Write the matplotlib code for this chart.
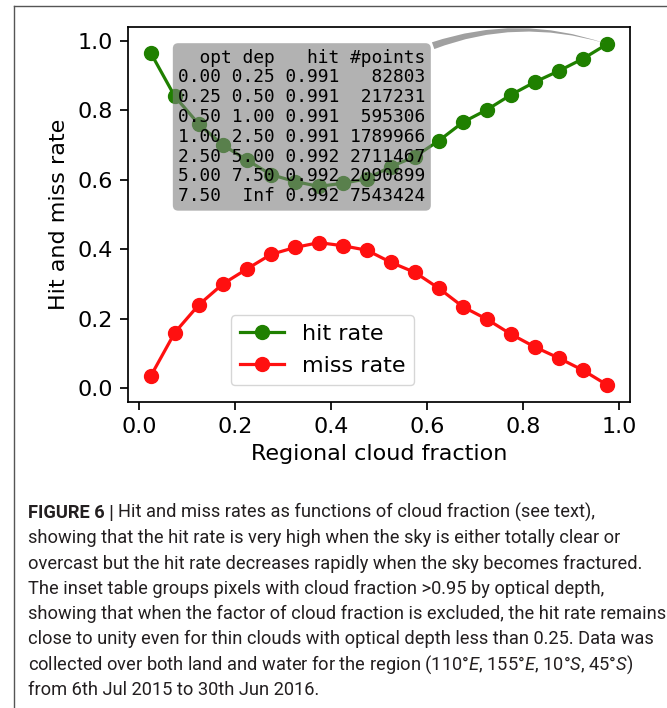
import matplotlib
matplotlib.use('Agg')
import matplotlib.pyplot as plt
from matplotlib.lines import Line2D

# ---------------- data ----------------
cloud_fraction = [0.025, 0.075, 0.125, 0.175, 0.225, 0.275, 0.325, 0.375, 0.425, 0.475,
                  0.525, 0.575, 0.625, 0.675, 0.725, 0.775, 0.825, 0.875, 0.925, 0.975]
hit_rate = [0.965, 0.840, 0.760, 0.700, 0.657, 0.615, 0.595, 0.581, 0.590, 0.603,
            0.638, 0.667, 0.713, 0.766, 0.802, 0.845, 0.882, 0.914, 0.949, 0.991]
miss_rate = [0.035, 0.160, 0.240, 0.300, 0.343, 0.385, 0.405, 0.419, 0.410, 0.397,
             0.362, 0.333, 0.287, 0.234, 0.198, 0.155, 0.118, 0.086, 0.051, 0.009]

table_header = "  opt dep   hit #points"
table_opt_lo = ["0.00", "0.25", "0.50", "1.00", "2.50", "5.00", "7.50"]
table_opt_hi = ["0.25", "0.50", "1.00", "2.50", "5.00", "7.50", "Inf"]
table_hit = [0.991, 0.991, 0.991, 0.991, 0.992, 0.992, 0.992]
table_points = [82803, 217231, 595306, 1789966, 2711467, 2090899, 7543424]

series_labels = ["hit rate", "miss rate"]
xlabel = "Regional cloud fraction"
ylabel = "Hit and miss rate"

caption_bold = "FIGURE 6 | "
caption_lines = [
    "Hit and miss rates as functions of cloud fraction (see text),",
    "showing that the hit rate is very high when the sky is either totally clear or",
    "overcast but the hit rate decreases rapidly when the sky becomes fractured.",
    "The inset table groups pixels with cloud fraction >0.95 by optical depth,",
    "showing that when the factor of cloud fraction is excluded, the hit rate remains",
    "close to unity even for thin clouds with optical depth less than 0.25. Data was",
    r"collected over both land and water for the region (110°$\mathit{E}$, 155°$\mathit{E}$, 10°$\mathit{S}$, 45°$\mathit{S}$)",
    "from 6th Jul 2015 to 30th Jun 2016.",
]

# ---------------- style ----------------
plt.rcParams['mathtext.fontset'] = 'custom'
plt.rcParams['mathtext.rm'] = 'Roboto'
plt.rcParams['mathtext.it'] = 'Roboto:italic'

FS = 16
W, H = 667, 708
fig = plt.figure(figsize=(W / 100, H / 100), dpi=100)

ax = fig.add_axes([128 / W, 1 - 402 / H, (630 - 128) / W, (402 - 27) / H])
ax.plot(cloud_fraction, hit_rate, '-o', color='#1f8000', lw=2.3, ms=10, label=series_labels[0])
ax.plot(cloud_fraction, miss_rate, '-o', color='#ff1010', lw=2.3, ms=10, label=series_labels[1])

ax.set_xticks([0.0, 0.2, 0.4, 0.6, 0.8, 1.0])
ax.set_yticks([0.0, 0.2, 0.4, 0.6, 0.8, 1.0])
ax.tick_params(labelsize=FS, length=5.6, width=1.25, pad=5)
for s in ax.spines.values():
    s.set_linewidth(1.25)
ax.set_xlabel(xlabel, fontsize=FS, labelpad=5)
ax.set_ylabel(ylabel, fontsize=FS, labelpad=6)

leg = ax.legend(loc='lower left', bbox_to_anchor=(0.205, 0.045), borderaxespad=0,
                fontsize=FS, labelspacing=0.55)

rows = [table_header] + [f"{lo:>4} {hi:>4} {h:.3f} {p:>7d}"
                         for lo, hi, h, p in zip(table_opt_lo, table_opt_hi, table_hit, table_points)]
table_text = "\n".join(rows)
ax.annotate(table_text, xy=(cloud_fraction[-1], hit_rate[-1]), xytext=(0.082, 0.978),
            xycoords='data', textcoords='data', ha='left', va='top',
            family='DejaVu Sans Mono', fontsize=12.9, linespacing=1.13,
            bbox=dict(boxstyle='round,pad=0.3', fc='gray', ec='none', alpha=0.6),
            arrowprops=dict(arrowstyle='wedge,tail_width=0.4', fc='gray', ec='none',
                            alpha=0.75, relpos=(1.0, 1.0),
                            connectionstyle='arc3,rad=-0.18'))

# ---------------- border ----------------
fig.add_artist(Line2D([14 / W, 1.0], [1 - 6 / H, 1 - 6 / H], color='#555555', lw=1.0,
                      transform=fig.transFigure))
fig.add_artist(Line2D([14 / W, 14 / W], [1 - 6 / H, 0.0], color='#555555', lw=1.0,
                      transform=fig.transFigure))

# ---------------- caption ----------------
renderer = fig.canvas.get_renderer()
cap_font = 'Roboto'
cap_color = '#231f20'
probe = fig.text(0, 0, caption_lines[4], fontsize=12, family=cap_font)
w12 = probe.get_window_extent(renderer).width
probe.remove()
cap_size = 12 * (662 - 28) / w12

x0 = 28
base0 = 518
step = 25.3
for i, line in enumerate(caption_lines):
    y = 1 - (base0 + i * step) / H
    if i == 0:
        tb = fig.text(x0 / W, y, caption_bold, fontsize=cap_size, family=cap_font,
                      weight='bold', color=cap_color, va='baseline')
        wb = tb.get_window_extent(renderer).width
        fig.text((x0 + wb) / W, y, line, fontsize=cap_size, family=cap_font,
                 color=cap_color, va='baseline')
    else:
        fig.text(x0 / W, y, line, fontsize=cap_size, family=cap_font,
                 color=cap_color, va='baseline')

fig.savefig('out.png', dpi=100)
